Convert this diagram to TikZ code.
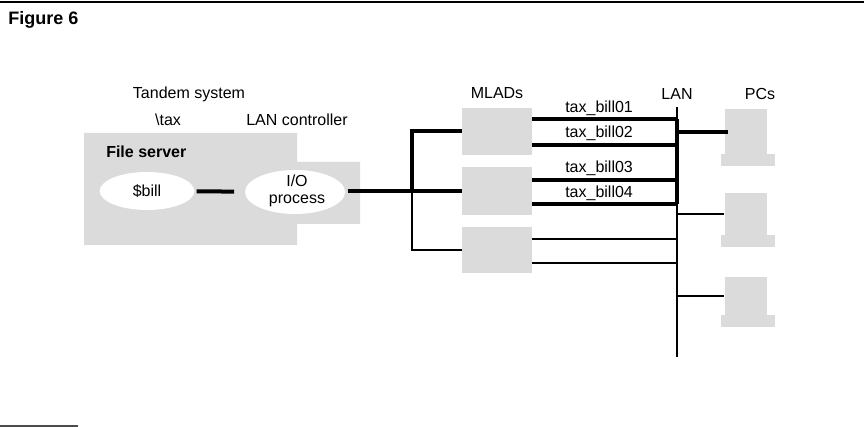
\documentclass[tikz,border=0pt]{standalone}
\usepackage{fontspec}
\setmainfont{Liberation Sans}
\usetikzlibrary{shapes.geometric}
\begin{document}
\begin{tikzpicture}[x={(0.75pt,0)},y={(0,-0.75pt)},
  lbl/.style={inner sep=0pt,font=\fontsize{12}{14}\selectfont},
  heavy/.style={line width=3pt},
  light/.style={line width=0.8pt},
  shade/.style={fill=black!14,draw=none},
  oval/.style={ellipse,fill=white,draw=none,inner sep=0pt},
  mlad/.style={shade,rectangle,minimum width=52.5pt,inner sep=0pt},
  pcbox/.style={shade,rectangle,minimum width=32pt,minimum height=31pt,inner sep=0pt},
  kbd/.style={shade,rectangle,minimum width=40pt,minimum height=9pt,inner sep=0pt}]
\useasboundingbox (0,0) rectangle (864,427);
% rules
\draw[line width=1.5pt] (0,2) -- (864,2);
\draw[line width=0.8pt,black!70] (0,426) -- (78,426);
\node[anchor=west,inner sep=0pt,font=\fontsize{13.5}{15}\selectfont\bfseries] (fig) at (8,20) {Figure 6};
% Tandem system grey area
\fill[black!14] (84,133) -- (297,133) -- (297,162) -- (360,162) -- (360,224) -- (297,224) -- (297,245) -- (84,245) -- cycle;
\node[lbl] (tandem) at (189,94) {Tandem system};
\node[lbl] (tax) at (168,120) {\textbackslash tax};
\node[lbl] (lanctl) at (297,120) {LAN controller};
\node[lbl,anchor=west,font=\fontsize{12}{14}\selectfont\bfseries] (fs) at (106,152) {File server};
\node[oval,minimum width=71pt,minimum height=28.5pt] (bill) at (147,191) {};
\node[lbl] at (bill.center) {\$bill};
\node[oval,minimum width=75pt,minimum height=33pt] (io) at (295,192) {};
\node[lbl,align=center,font=\fontsize{12}{12.5}\selectfont] at (297,191) {I/O\\process};
\draw[heavy,shorten <=1.5pt,shorten >=8pt] (bill) -- (io);
% MLADs
\node[lbl] (mladlbl) at (497,93) {MLADs};
\node[mlad,minimum height=35.25pt] (m1) at (497,131.5) {};
\node[mlad,minimum height=36pt] (m2) at (497,191) {};
\node[mlad,minimum height=34.5pt] (m3) at (497,250) {};
\coordinate (j) at (412,191);
\draw[heavy,shorten <=2pt] (io.east |- m2.west) -- (m2.west);
\draw[heavy] (j) |- (m1.west);
\draw[light] (j) |- (m3.west);
% LAN
\node[lbl] (lanlbl) at (677,94) {LAN};
\coordinate (lantop) at (677,107);
\coordinate (lanbot) at (677,357);
\draw[light] (lantop) -- (lanbot);
\draw[heavy] ([yshift=9.4pt]m1.east) -- ([yshift=9.4pt]m1.east -| lantop);
\draw[heavy] ([yshift=-10pt]m1.east) -- ([yshift=-10pt]m1.east -| lantop);
\draw[heavy] ([yshift=8.25pt]m2.east) -- ([yshift=8.25pt]m2.east -| lantop);
\draw[heavy] ([yshift=-9.75pt]m2.east) -- ([yshift=-9.75pt]m2.east -| lantop);
\draw[light] ([yshift=8.25pt]m3.east) -- ([yshift=8.25pt]m3.east -| lantop);
\draw[light] ([yshift=-9.75pt]m3.east) -- ([yshift=-9.75pt]m3.east -| lantop);
\draw[heavy] ([yshift=9.4pt]m1.east -| lantop) -- ([yshift=-9.75pt]m2.east -| lantop);
\node[lbl,anchor=west] (t1) at (565,108) {tax\_bill01};
\node[lbl,anchor=west] (t2) at (565,133) {tax\_bill02};
\node[lbl,anchor=west] (t3) at (565,168) {tax\_bill03};
\node[lbl,anchor=west] (t4) at (565,193) {tax\_bill04};
% PCs
\node[lbl] (pclbl) at (760,94) {PCs};
\node[pcbox,minimum height=34pt] (pc1) at (746,132) {};
\node[kbd,anchor=north] (k1) at (748,154) {};
\node[pcbox] (pc2) at (746,214) {};
\node[kbd,anchor=north] (k2) at (748,235) {};
\node[pcbox,minimum height=28pt] (pc3) at (746,296) {};
\node[kbd,anchor=north] (k3) at (748,315) {};
\draw[heavy] (lantop |- pc1.west) -- ([xshift=3pt]pc1.west);
\draw[light] (lantop |- pc2.west) -- (pc2.west);
\draw[light] (lantop |- pc3.west) -- (pc3.west);
\end{tikzpicture}
\end{document}
